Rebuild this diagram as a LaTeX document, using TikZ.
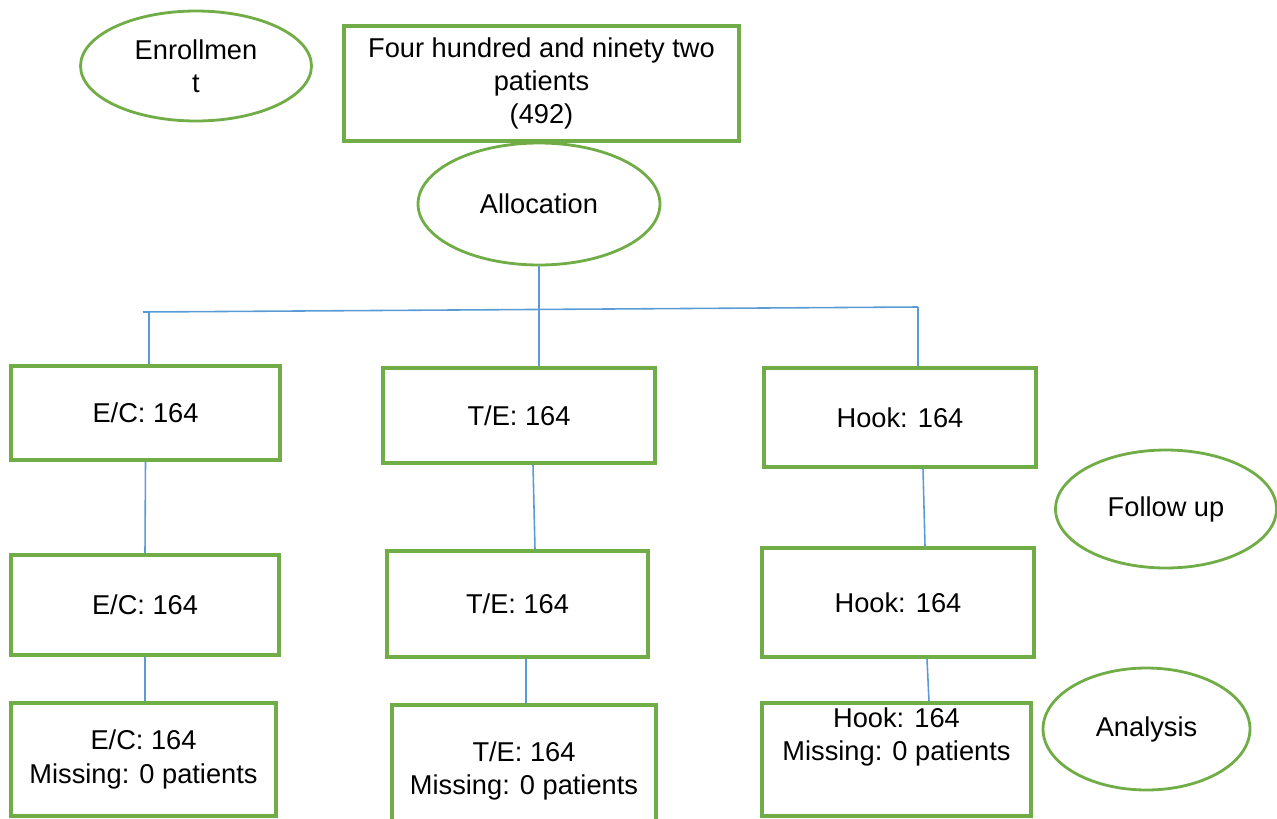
\documentclass[tikz,border=0pt]{standalone}
\usepackage{fontspec}
\setmainfont{Liberation Sans}
\definecolor{fcGreen}{HTML}{70AD47}
\definecolor{fcBlue}{HTML}{5B9BD5}
\usetikzlibrary{positioning,shapes.geometric}

\begin{document}
\begin{tikzpicture}[x=0.02cm, y=-0.02cm,
  box/.style={draw=fcGreen, line width=1.9pt, align=center,
    font=\fontsize{15.5}{18.9}\selectfont},
  stage/.style={ellipse, draw=fcGreen, line width=1.6pt, align=center,
    inner sep=0pt, font=\fontsize{15.5}{18.9}\selectfont},
  link/.style={draw=fcBlue, line width=0.9pt}
]
  \useasboundingbox (0,0) rectangle (1277,818);

  \node[stage, minimum width=4.62cm, minimum height=2.2cm] (enrol) at (196,66) {Enrollmen\\t};
  \node[box, minimum width=7.9cm, minimum height=2.3cm] (total) at (541.5,83.5) {
    Four hundred and ninety two\\
    patients\\
    (492)
  };
  \node[stage, minimum width=4.84cm, minimum height=2.44cm] (alloc) at (539,204) {Allocation};

  \node[box, minimum width=5.38cm, minimum height=1.88cm] (ecA) at (145.5,413) {E/C: 164};
  \node[box, minimum width=5.44cm, minimum height=1.9cm] (teA) at (519,415.5) {T/E: 164};
  \node[box, minimum width=5.44cm, minimum height=1.98cm] (hkA) at (900,417.5) {Hook: 164};

  \node[stage, minimum width=4.42cm, minimum height=2.36cm] (follow) at (1166,509) {Follow up};

  \node[box, minimum width=5.36cm, minimum height=2cm] (ecB) at (145,605) {E/C: 164};
  \node[box, minimum width=5.22cm, minimum height=2.12cm] (teB) at (517.5,604) {T/E: 164};
  \node[box, minimum width=5.44cm, minimum height=2.18cm] (hkB) at (898,602.5) {Hook: 164};

  \node[box, minimum width=5.3cm, minimum height=2.26cm] (ecC) at (143.5,759.5) {
    E/C: 164\\
    Missing: 0 patients
  };
  \node[box, minimum width=5.28cm, minimum height=2.64cm] (teC) at (524,771) {
    T/E: 164\\
    Missing: 0 patients
  };
  \node[box, minimum width=5.38cm, minimum height=2.26cm,
    label={[anchor=north, align=center, font=\fontsize{15.5}{18.9}\selectfont]north:{Hook: 164\\Missing: 0 patients}}]
    (hkC) at (896.5,759.5) {};

  \node[stage, minimum width=4.14cm, minimum height=2.44cm] (analysis) at (1146.5,729) {Analysis};

  \coordinate (jl) at (143,312);
  \coordinate (dl) at (149,312);
  \coordinate (jr) at (918,307);

  \draw[link] (alloc.south) -- (alloc.south |- teA.north);
  \draw[link] (jl) -- (jr);
  \draw[link] (dl) -- (dl |- ecA.north);
  \draw[link] (jr) -- (jr |- hkA.north);

  \draw[link] (ecA.south) -- (ecB.north);
  \draw[link] ([xshift=0.28cm]teA.south) -- ([xshift=0.35cm]teB.north);
  \draw[link] ([xshift=0.46cm]hkA.south) -- ([xshift=0.54cm]hkB.north);

  \draw[link] (ecB.south) -- (ecB.south |- ecC.north);
  \draw[link] ([xshift=0.17cm]teB.south) -- ([xshift=0.04cm]teC.north);
  \draw[link] ([xshift=0.58cm]hkB.south) -- ([xshift=0.65cm]hkC.north);
\end{tikzpicture}
\end{document}
